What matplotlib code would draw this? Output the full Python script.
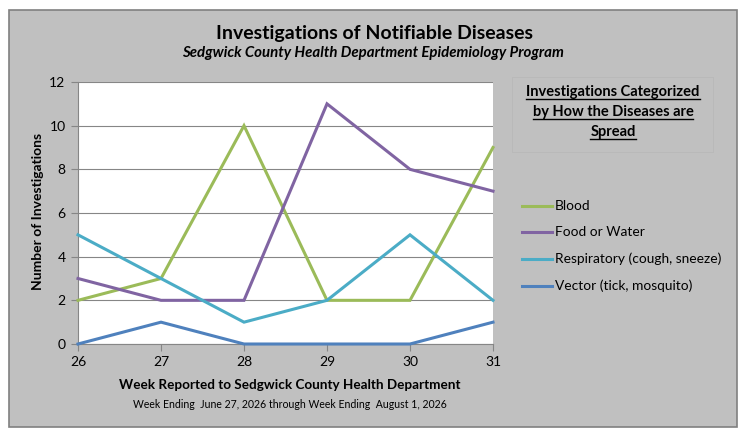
import matplotlib
matplotlib.use("Agg")
import matplotlib.pyplot as plt
from matplotlib.patches import Rectangle
from matplotlib.lines import Line2D

weeks = [26, 27, 28, 29, 30, 31]
blood = [2, 3, 10, 2, 2, 9]
food_water = [3, 2, 2, 11, 8, 7]
respiratory = [5, 3, 1, 2, 5, 2]
vector = [0, 1, 0, 0, 0, 1]
series_names = ["Blood", "Food or Water", "Respiratory (cough, sneeze)", "Vector (tick, mosquito)"]
series_colors = ["#9BBB59", "#8064A2", "#4BACC6", "#4F81BD"]
y_ticks = [0, 2, 4, 6, 8, 10, 12]

plt.rcParams['font.family'] = ['Lato', 'DejaVu Sans']

W, H = 751, 442
fig = plt.figure(figsize=(W / 100, H / 100), dpi=100, facecolor="white")

def fx(px):
    return px / W

def fy(py):
    return 1 - py / H

# grey chart panel
fig.patches.append(Rectangle((fx(9), fy(427)), fx(737) - fx(9), fy(10) - fy(427),
                             transform=fig.transFigure, facecolor="#C0C0C0",
                             edgecolor="#808080", linewidth=1.2, zorder=-5))

ax = fig.add_axes([fx(78), fy(344), fx(493) - fx(78), fy(82) - fy(344)])
ax.set_zorder(5)
ax.set_facecolor("white")
for vals, name, col in zip([blood, food_water, respiratory, vector], series_names, series_colors):
    ax.plot(weeks, vals, color=col, linewidth=2.2, label=name, solid_joinstyle="miter",
            zorder=3, clip_on=False)

ax.set_xlim(26, 31)
ax.set_ylim(0, 12)
ax.set_xticks(weeks)
ax.set_yticks(y_ticks)
ax.grid(axis="y", color="#868686", linewidth=0.8, zorder=1)
ax.set_axisbelow(True)
for s in ["top", "right"]:
    ax.spines[s].set_visible(False)
for s in ["left", "bottom"]:
    ax.spines[s].set_color("#868686")
    ax.spines[s].set_linewidth(0.8)
ax.tick_params(axis="both", direction="out", length=5, width=0.8, color="#868686",
               labelsize=10, labelcolor="black")
ax.tick_params(axis="x", pad=4)
ax.tick_params(axis="y", pad=4)

# titles
fig.text(fx(375), fy(33), "Investigations of Notifiable Diseases", ha="center", va="center",
         fontsize=14, fontweight="bold")
fig.text(fx(373), fy(53), "Sedgwick County Health Department Epidemiology Program", ha="center",
         va="center", fontsize=10.8, fontweight="bold", style="italic")
fig.text(fx(38), fy(211), "Number of Investigations", ha="center", va="center", rotation=90,
         fontsize=10, fontweight="bold")
fig.text(fx(290), fy(385), "Week Reported to Sedgwick County Health Department", ha="center",
         va="center", fontsize=9.7, fontweight="bold")
fig.text(fx(290), fy(404), "Week Ending  June 27, 2026 through Week Ending  August 1, 2026",
         ha="center", va="center", fontsize=7.6)

# legend title box
fig.patches.append(Rectangle((fx(512), fy(152)), fx(713) - fx(512), fy(77) - fy(152),
                             transform=fig.transFigure, facecolor="none",
                             edgecolor="#B8B8B8", linewidth=0.6, zorder=1))
title_lines = ["Investigations Categorized", "by How the Diseases are", "Spread"]
title_y = [92, 112, 132]
texts = []
for t, yy in zip(title_lines, title_y):
    texts.append(fig.text(fx(613), fy(yy), t, ha="center", va="center", fontsize=10.5,
                          fontweight="bold"))
fig.canvas.draw()
r = fig.canvas.get_renderer()
for txt in texts:
    bb = txt.get_window_extent(r)
    yline = bb.y0
    fig.add_artist(Line2D([bb.x0 / W, bb.x1 / W], [yline / H, yline / H],
                          transform=fig.transFigure, color="black", linewidth=1.0))

# legend
handles, labels = ax.get_legend_handles_labels()
leg_y = [206, 232, 259, 286]
for (h, lab, yy) in zip(handles, labels, leg_y):
    fig.add_artist(Line2D([fx(522), fx(552)], [fy(yy), fy(yy)], transform=fig.transFigure,
                          color=h.get_color(), linewidth=2.2))
    fig.text(fx(555), fy(yy), lab, ha="left", va="center", fontsize=9.9)

fig.savefig("out.png", dpi=100, facecolor="white")
